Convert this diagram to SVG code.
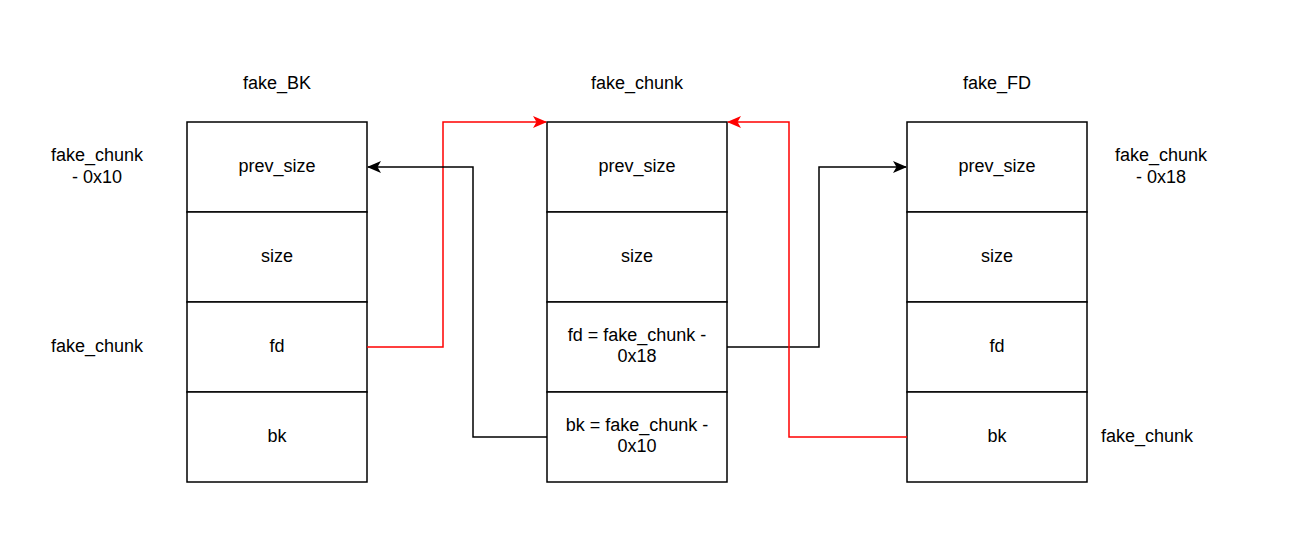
<svg xmlns="http://www.w3.org/2000/svg" width="1294" height="559" viewBox="0 0 1294 559">
<style>
.box{fill:#fff;stroke:#000;stroke-width:1.5}
text{font-family:"Liberation Sans",Arial,sans-serif;font-size:18px;fill:#000;text-anchor:middle}
.k{fill:none;stroke:#000;stroke-width:1.5}
.r{fill:none;stroke:#ff0000;stroke-width:1.5}
</style>
<defs>
<marker id="ak" viewBox="0 0 14 12" refX="13" refY="6" markerWidth="14" markerHeight="12" markerUnits="userSpaceOnUse" orient="auto">
<path d="M0,0 L14,6 L0,12 L3.5,6 Z" fill="#000"/>
</marker>
<marker id="ar" viewBox="0 0 14 12" refX="13" refY="6" markerWidth="14" markerHeight="12" markerUnits="userSpaceOnUse" orient="auto">
<path d="M0,0 L14,6 L0,12 L3.5,6 Z" fill="#ff0000"/>
</marker>
</defs>
<rect width="1294" height="559" fill="#fff"/>
<g id="fake_BK">
<text x="277" y="89">fake_BK</text>
<rect class="box" x="187" y="122" width="180" height="90"/>
<rect class="box" x="187" y="212" width="180" height="90"/>
<rect class="box" x="187" y="302" width="180" height="90"/>
<rect class="box" x="187" y="392" width="180" height="90"/>
<text x="277" y="172">prev_size</text>
<text x="277" y="262">size</text>
<text x="277" y="352">fd</text>
<text x="277" y="442">bk</text>
</g>
<g id="fake_chunk">
<text x="637" y="89">fake_chunk</text>
<rect class="box" x="547" y="122" width="180" height="90"/>
<rect class="box" x="547" y="212" width="180" height="90"/>
<rect class="box" x="547" y="302" width="180" height="90"/>
<rect class="box" x="547" y="392" width="180" height="90"/>
<text x="637" y="172">prev_size</text>
<text x="637" y="262">size</text>
<text x="637" y="341">fd = fake_chunk -</text>
<text x="637" y="362">0x18</text>
<text x="637" y="431">bk = fake_chunk -</text>
<text x="637" y="452">0x10</text>
</g>
<g id="fake_FD">
<text x="997" y="89">fake_FD</text>
<rect class="box" x="907" y="122" width="180" height="90"/>
<rect class="box" x="907" y="212" width="180" height="90"/>
<rect class="box" x="907" y="302" width="180" height="90"/>
<rect class="box" x="907" y="392" width="180" height="90"/>
<text x="997" y="172">prev_size</text>
<text x="997" y="262">size</text>
<text x="997" y="352">fd</text>
<text x="997" y="442">bk</text>
</g>
<g id="labels">
<text x="97" y="161">fake_chunk</text>
<text x="97" y="183">- 0x10</text>
<text x="97" y="352">fake_chunk</text>
<text x="1161" y="161">fake_chunk</text>
<text x="1161" y="183">- 0x18</text>
<text x="1147" y="442">fake_chunk</text>
</g>
<g id="connectors">
<path class="r" d="M367,347 H443 V122 H546" marker-end="url(#ar)"/>
<path class="k" d="M547,437 H473 V167 H368" marker-end="url(#ak)"/>
<path class="k" d="M727,347 H819 V167 H906" marker-end="url(#ak)"/>
<path class="r" d="M907,437 H789 V122 H728" marker-end="url(#ar)"/>
</g>
</svg>
